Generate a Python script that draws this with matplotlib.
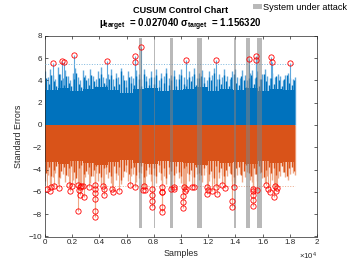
import numpy as np
import matplotlib
matplotlib.use('Agg')
import matplotlib.pyplot as plt
from matplotlib.patches import Patch

plt.rcParams['font.family'] = ['Liberation Sans', 'DejaVu Sans']
plt.rcParams['mathtext.fontset'] = 'custom'
plt.rcParams['mathtext.rm'] = 'Liberation Sans'
plt.rcParams['mathtext.bf'] = 'Liberation Sans:bold'
plt.rcParams['mathtext.it'] = 'Liberation Sans:italic'

# ---------------- data ----------------
n_samples = 18400
mu_target = 0.027040
sigma_target = 1.156320
threshold = 5.5

upper_base = [3.1, 3.3, 3.0, 3.2, 3.4, 3.1, 2.9, 3.2, 3.3, 3.0, 3.1, 3.2, 3.4, 3.0, 3.2, 3.1, 3.3, 3.0, 3.2, 3.1]
upper_dark = [4.2, 3.7, 4.5, 3.9, 3.5, 4.6, 4.0, 3.6, 4.4, 3.8, 3.5, 4.1, 4.7, 3.7, 3.4, 4.3, 4.0, 3.6, 4.5, 3.9,
              3.5, 4.2, 4.6, 3.8, 3.6, 4.1, 4.5, 3.5, 4.2, 3.7, 4.8, 4.0, 3.4, 4.3, 3.8, 3.6, 4.4, 4.1, 3.5, 4.6,
              3.9, 3.6, 4.3, 3.7, 4.5, 3.4, 4.2, 3.8, 4.7, 3.6, 4.0, 4.4, 3.5, 4.1, 4.5, 3.7, 3.5, 4.3, 3.9, 4.6,
              3.6, 4.2, 4.4, 3.8, 3.4, 4.3, 4.0, 4.7, 3.5, 4.1, 3.7, 4.5, 3.9, 3.5, 4.3, 4.6, 3.8, 3.6, 4.4, 4.0,
              3.4, 4.2, 4.5, 3.7, 4.3, 3.5, 4.1, 4.6, 3.9, 3.6, 4.2, 3.7, 4.4, 4.0, 3.5, 4.1, 4.5, 3.8, 3.6, 4.0]
upper_light = [4.8, 4.3, 5.0, 4.5, 4.1, 5.2, 4.6, 4.2, 4.9, 4.4, 4.0, 4.7, 5.1, 4.3, 4.0, 4.9, 4.5, 4.2, 5.0, 4.4,
               4.1, 4.8, 5.2, 4.3, 4.2, 4.6, 5.0, 4.1, 4.7, 4.3, 5.1, 4.5, 4.0, 4.8, 4.4, 4.2, 4.9, 4.6, 4.1, 5.0,
               4.4, 4.2, 4.8, 4.3, 5.0, 4.0, 4.7, 4.4, 5.1, 4.2, 4.5, 4.9, 4.1, 4.6, 5.0, 4.3, 4.1, 4.8, 4.4, 5.1,
               4.2, 4.7, 4.9, 4.3, 4.0, 4.8, 4.5, 5.1, 4.1, 4.6, 4.3, 5.0, 4.4, 4.1, 4.8, 5.0, 4.3, 4.2, 4.9, 4.5,
               4.0, 4.7, 4.9, 4.2, 4.8, 4.1, 4.6, 5.0, 4.4, 4.2, 4.7, 4.3, 4.6, 4.4, 4.0, 4.5, 4.7, 4.2, 4.1, 4.3]

lower_base = [-3.3, -3.5, -3.2, -3.4, -3.6, -3.3, -3.1, -3.4, -3.5, -3.2, -3.3, -3.4, -3.6, -3.2, -3.4, -3.3, -3.5, -3.2, -3.4, -3.3]
lower_dark = [-4.3, -3.8, -4.6, -4.0, -3.7, -4.7, -4.1, -3.8, -4.5, -3.9, -3.7, -4.2, -4.8, -3.9, -3.6, -4.4, -4.1, -3.8, -4.6, -4.0,
              -3.7, -4.3, -4.7, -3.9, -3.8, -4.2, -4.6, -3.7, -4.3, -3.8, -4.9, -4.1, -3.6, -4.4, -3.9, -3.8, -4.5, -4.2, -3.7, -4.7,
              -4.0, -3.8, -4.4, -3.9, -4.6, -3.6, -4.3, -3.9, -4.8, -3.8, -4.1, -4.5, -3.7, -4.2, -4.6, -3.9, -3.7, -4.4, -4.0, -4.7,
              -3.8, -4.3, -4.5, -3.9, -3.6, -4.4, -4.1, -4.8, -3.7, -4.2, -3.9, -4.6, -4.0, -3.7, -4.4, -4.7, -3.9, -3.8, -4.5, -4.1,
              -3.6, -4.3, -4.6, -3.9, -4.4, -3.7, -4.2, -4.7, -4.0, -3.8, -4.3, -3.9, -4.5, -4.1, -3.7, -4.2, -4.6, -3.9, -3.8, -4.1]
lower_light = [-5.0, -4.5, -5.2, -4.7, -4.3, -5.3, -4.8, -4.4, -5.1, -4.6, -4.2, -4.9, -5.3, -4.5, -4.2, -5.1, -4.7, -4.4, -5.2, -4.6,
               -4.3, -5.0, -5.3, -4.5, -4.4, -4.8, -5.2, -4.3, -4.9, -4.5, -5.3, -4.7, -4.2, -5.0, -4.6, -4.4, -5.1, -4.8, -4.3, -5.2,
               -4.6, -4.4, -5.0, -4.5, -5.2, -4.2, -4.9, -4.6, -5.3, -4.4, -4.7, -5.1, -4.3, -4.8, -5.2, -4.5, -4.3, -5.0, -4.6, -5.3,
               -4.4, -4.9, -5.1, -4.5, -4.2, -5.0, -4.7, -5.3, -4.3, -4.8, -4.5, -5.2, -4.6, -4.3, -5.0, -5.2, -4.5, -4.4, -5.1, -4.7,
               -4.2, -4.9, -5.1, -4.4, -5.0, -4.3, -4.8, -5.2, -4.6, -4.4, -4.9, -4.5, -4.8, -4.6, -4.2, -4.7, -4.9, -4.4, -4.3, -4.5]

upper_alarm_x = [570, 1230, 1400, 2160, 4530, 6600, 6620, 7030, 10350, 12600, 15000, 15500, 15510, 16640, 16670, 18000]
upper_alarm_y = [5.56, 5.74, 5.60, 6.28, 5.71, 6.16, 5.63, 6.96, 5.78, 5.78, 5.89, 6.19, 5.80, 6.13, 5.60, 5.57]

lower_alarm_x = [120, 370, 470, 640, 1000,
                 1800, 1810, 2000,
                 2450, 2550, 2520, 2670, 2820, 2600, 2870, 2450, 3200,
                 3680, 3680, 3680, 3680, 3680, 3680,
                 4290, 4360, 4360, 4900, 4980, 5470, 6250, 6650,
                 7280, 7230, 7380,
                 7840, 7840, 7840, 7840,
                 8600, 8600, 8610, 8600, 8600,
                 9290, 9510, 9460,
                 10170, 10170, 10170, 10250, 10370, 10300, 10780, 10980,
                 11890, 11960, 11930, 12300, 12600, 12670, 12990, 13240,
                 13870, 13770, 13770,
                 15270, 15270, 15270, 15270, 15270,
                 15560, 16270, 16420, 16540, 16910, 16960, 16840, 17040]
lower_alarm_y = [-5.71, -5.95, -5.54, -5.48, -5.68,
                 -5.42, -5.89, -5.45,
                 -5.42, -5.60, -5.80, -5.50, -5.45, -6.28, -6.47, -7.70, -5.57,
                 -5.42, -5.75, -6.13, -6.62, -7.70, -8.22,
                 -5.50, -5.75, -6.30, -5.71, -5.97, -5.95, -5.42, -5.55,
                 -5.50, -5.85, -5.80,
                 -5.77, -6.28, -6.80, -7.32,
                 -5.60, -6.00, -6.05, -7.32, -7.83,
                 -5.71, -5.54, -5.77,
                 -6.34, -6.90, -7.44, -5.54, -5.71, -5.95, -5.57, -5.57,
                 -5.60, -5.80, -6.16, -5.89, -5.60, -6.19, -5.42, -5.65,
                 -5.60, -6.85, -7.35,
                 -5.71, -5.95, -6.25, -6.70, -7.23,
                 -5.80, -5.36, -5.71, -6.01, -5.51, -5.95, -6.43, -5.65]

attack_start = [6900, 8010, 9190, 11200, 13900, 14800, 15600]
attack_end = [7130, 8080, 9410, 11540, 14060, 15100, 15950]
band_low, band_high = -9.25, 7.75

xtick_vals = [0, 2000, 4000, 6000, 8000, 10000, 12000, 14000, 16000, 18000, 20000]
xtick_labels = ['0', '0.2', '0.4', '0.6', '0.8', '1', '1.2', '1.4', '1.6', '1.8', '2']
ytick_vals = [-10, -8, -6, -4, -2, 0, 2, 4, 6, 8]

# ---------------- colors ----------------
blue = '#0072BD'
blue_light = '#5FA8DC'
orange = '#D95319'
orange_light = '#EFA886'
axis_col = '#262626'

fig = plt.figure(figsize=(3.5, 2.63), dpi=100)
ax = fig.add_axes([45/350, 1-236.5/263, (317-45)/350, (236.5-35.7)/263])

# upper CUSUM
xl = np.linspace(0, n_samples, len(upper_light))
ax.vlines(xl, 0, upper_light, colors=blue_light, lw=1.0, zorder=1)
xd = np.linspace(90, n_samples - 90, len(upper_dark))
ax.vlines(xd, 0, upper_dark, colors=blue, lw=1.0, zorder=2)
edges = np.linspace(0, n_samples, len(upper_base) + 1)
ax.stairs(upper_base, edges, fill=True, baseline=0, color=blue, zorder=2)
ax.vlines(upper_alarm_x, 0, upper_alarm_y, colors=blue_light, lw=0.8, zorder=1.5)

# lower CUSUM
xl = np.linspace(0, n_samples, len(lower_light))
ax.vlines(xl, 0, lower_light, colors=orange_light, lw=1.0, zorder=1)
xd = np.linspace(90, n_samples - 90, len(lower_dark))
ax.vlines(xd, 0, lower_dark, colors=orange, lw=1.0, zorder=2)
edges = np.linspace(0, n_samples, len(lower_base) + 1)
ax.stairs(lower_base, edges, fill=True, baseline=0, color=orange, zorder=2)
ax.vlines(lower_alarm_x, 0, lower_alarm_y, colors=orange_light, lw=0.8, zorder=1.5)

# thresholds
ax.plot([0, n_samples], [threshold, threshold], ':', color='#7FB8DE', lw=0.7, zorder=3)
ax.plot([0, n_samples], [-threshold, -threshold], ':', color='#ECA98A', lw=0.7, zorder=3)

# attack bands
starts = np.array(attack_start)
ends = np.array(attack_end)
ax.bar((starts + ends) / 2, band_high - band_low, width=ends - starts, bottom=band_low,
       color='#808080', alpha=0.55, lw=0, zorder=4)

# alarms
ax.plot(upper_alarm_x, upper_alarm_y, 'o', mfc='none', mec='#FF0000', ms=3.8, mew=0.6, zorder=5)
ax.plot(lower_alarm_x, lower_alarm_y, 'o', mfc='none', mec='#FF0000', ms=3.8, mew=0.6, zorder=5)

ax.set_xlim(0, 20000)
ax.set_ylim(-10, 8)
ax.set_xticks(xtick_vals)
ax.set_xticklabels(xtick_labels)
ax.set_yticks(ytick_vals)
ax.tick_params(direction='in', top=True, right=True, length=2.5, width=0.5,
               labelsize=5.8, colors=axis_col, pad=2)
for s in ax.spines.values():
    s.set_linewidth(0.5)
    s.set_color(axis_col)

ax.set_xlabel('Samples', fontsize=6.4, color=axis_col, labelpad=2)
ax.set_ylabel('Standard Errors', fontsize=6.4, color=axis_col, labelpad=4)
fig.text(317/350, 1-259.5/263, r'$\times10^{4}$', ha='right', va='baseline',
         fontsize=5.6, color=axis_col)

fig.text(181/350, 1-10.5/263, 'CUSUM Control Chart', ha='center', va='center',
         fontsize=6.6, fontweight='bold', color='black')
fig.text(180/350, 1-25/263,
         r'$\mathbf{\mu_{target}}$' + '  = %.6f ' % mu_target + r'$\mathbf{\sigma_{target}}$' + '  = %.6f' % sigma_target,
         ha='center', va='center', fontsize=6.9, fontweight='bold', color='black')

handles = [Patch(facecolor='#808080', alpha=0.55, edgecolor='none')]
fig.legend(handles, ['System under attack'], loc='upper right', bbox_to_anchor=(1.0, 1.0),
           frameon=False, fontsize=6.6, handlelength=1.0, handleheight=0.6,
           handletextpad=0.1, borderaxespad=0.1, borderpad=0.2)

fig.savefig('out.png', dpi=100)
